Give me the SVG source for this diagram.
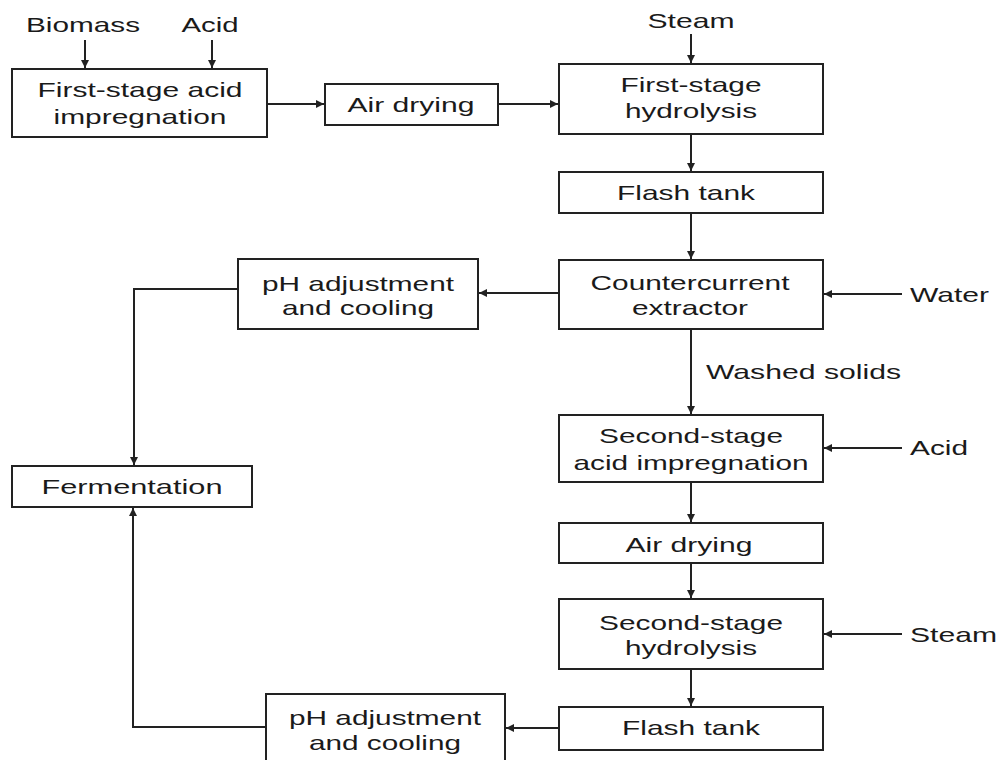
<svg xmlns="http://www.w3.org/2000/svg" width="997" height="760" viewBox="0 0 997 760">
<defs>
<style>
.box{fill:#fff;stroke:#222;stroke-width:2}
.ln{fill:none;stroke:#222;stroke-width:2}
.arr{marker-end:url(#ah)}
text{font-family:"Liberation Sans",Arial,sans-serif;font-size:21px;fill:#1a1a1a}
.c{text-anchor:middle}
</style>
<marker id="ah" viewBox="0 0 10 10" refX="10" refY="5" markerWidth="9" markerHeight="8" markerUnits="userSpaceOnUse" orient="auto">
<path d="M0,0 L10,5 L0,10 z" fill="#222"/>
</marker>
</defs>
<rect width="997" height="760" fill="#fff"/>
<g id="connectors">
<line class="ln arr" x1="85" y1="40" x2="85" y2="68"/>
<line class="ln arr" x1="212" y1="40" x2="212" y2="68"/>
<line class="ln arr" x1="267" y1="104" x2="324" y2="104"/>
<line class="ln arr" x1="498" y1="104" x2="558" y2="104"/>
<line class="ln arr" x1="691" y1="34" x2="691" y2="63"/>
<line class="ln arr" x1="691" y1="134" x2="691" y2="171"/>
<line class="ln arr" x1="691" y1="213" x2="691" y2="259"/>
<line class="ln arr" x1="902" y1="294" x2="824" y2="294"/>
<line class="ln arr" x1="559" y1="293" x2="479" y2="293"/>
<polyline class="ln arr" points="238,289 134,289 134,465"/>
<line class="ln arr" x1="691" y1="329" x2="691" y2="414"/>
<line class="ln arr" x1="902" y1="448" x2="824" y2="448"/>
<line class="ln arr" x1="691" y1="482" x2="691" y2="522"/>
<line class="ln arr" x1="691" y1="563" x2="691" y2="598"/>
<line class="ln arr" x1="902" y1="634" x2="824" y2="634"/>
<line class="ln arr" x1="691" y1="669" x2="691" y2="706"/>
<line class="ln arr" x1="559" y1="728" x2="506" y2="728"/>
<polyline class="ln arr" points="266,727 133,727 133,508"/>
</g>
<g id="labels">
<text class="c" x="83" y="32" textLength="114" lengthAdjust="spacingAndGlyphs">Biomass</text>
<text class="c" x="210" y="32" textLength="57" lengthAdjust="spacingAndGlyphs">Acid</text>
<text class="c" x="691" y="28" textLength="87" lengthAdjust="spacingAndGlyphs">Steam</text>
<text x="910" y="302" textLength="79" lengthAdjust="spacingAndGlyphs">Water</text>
<text x="706" y="379" textLength="195" lengthAdjust="spacingAndGlyphs">Washed solids</text>
<text x="910" y="455" textLength="58" lengthAdjust="spacingAndGlyphs">Acid</text>
<text x="910" y="642" textLength="87" lengthAdjust="spacingAndGlyphs">Steam</text>
</g>
<g id="n1">
<rect class="box" x="12" y="69" width="255" height="68"/>
<text class="c" x="140" y="97" textLength="205" lengthAdjust="spacingAndGlyphs">First-stage acid</text>
<text class="c" x="140" y="124" textLength="173" lengthAdjust="spacingAndGlyphs">impregnation</text>
</g>
<g id="n2">
<rect class="box" x="325" y="84" width="173" height="41"/>
<text class="c" x="411" y="112" textLength="127" lengthAdjust="spacingAndGlyphs">Air drying</text>
</g>
<g id="n3">
<rect class="box" x="559" y="64" width="264" height="70"/>
<text class="c" x="691" y="92" textLength="141" lengthAdjust="spacingAndGlyphs">First-stage</text>
<text class="c" x="691" y="118" textLength="132" lengthAdjust="spacingAndGlyphs">hydrolysis</text>
</g>
<g id="n4">
<rect class="box" x="559" y="172" width="264" height="41"/>
<text class="c" x="686" y="200" textLength="138" lengthAdjust="spacingAndGlyphs">Flash tank</text>
</g>
<g id="n5">
<rect class="box" x="559" y="260" width="264" height="69"/>
<text class="c" x="690" y="290" textLength="199" lengthAdjust="spacingAndGlyphs">Countercurrent</text>
<text class="c" x="690" y="315" textLength="116" lengthAdjust="spacingAndGlyphs">extractor</text>
</g>
<g id="n6">
<rect class="box" x="238" y="259" width="240" height="70"/>
<text class="c" x="358" y="291" textLength="192" lengthAdjust="spacingAndGlyphs">pH adjustment</text>
<text class="c" x="358" y="315" textLength="152" lengthAdjust="spacingAndGlyphs">and cooling</text>
</g>
<g id="n7">
<rect class="box" x="12" y="466" width="240" height="41"/>
<text class="c" x="132" y="494" textLength="181" lengthAdjust="spacingAndGlyphs">Fermentation</text>
</g>
<g id="n8">
<rect class="box" x="559" y="415" width="264" height="67"/>
<text class="c" x="691" y="443" textLength="184" lengthAdjust="spacingAndGlyphs">Second-stage</text>
<text class="c" x="691" y="470" textLength="235" lengthAdjust="spacingAndGlyphs">acid impregnation</text>
</g>
<g id="n9">
<rect class="box" x="559" y="523" width="264" height="40"/>
<text class="c" x="689" y="552" textLength="127" lengthAdjust="spacingAndGlyphs">Air drying</text>
</g>
<g id="n10">
<rect class="box" x="559" y="599" width="264" height="70"/>
<text class="c" x="691" y="630" textLength="184" lengthAdjust="spacingAndGlyphs">Second-stage</text>
<text class="c" x="691" y="655" textLength="132" lengthAdjust="spacingAndGlyphs">hydrolysis</text>
</g>
<g id="n11">
<rect class="box" x="559" y="707" width="264" height="43"/>
<text class="c" x="691" y="735" textLength="138" lengthAdjust="spacingAndGlyphs">Flash tank</text>
</g>
<g id="n12">
<rect class="box" x="266" y="694" width="239" height="72"/>
<text class="c" x="385" y="725" textLength="192" lengthAdjust="spacingAndGlyphs">pH adjustment</text>
<text class="c" x="385" y="750" textLength="152" lengthAdjust="spacingAndGlyphs">and cooling</text>
</g>
</svg>
